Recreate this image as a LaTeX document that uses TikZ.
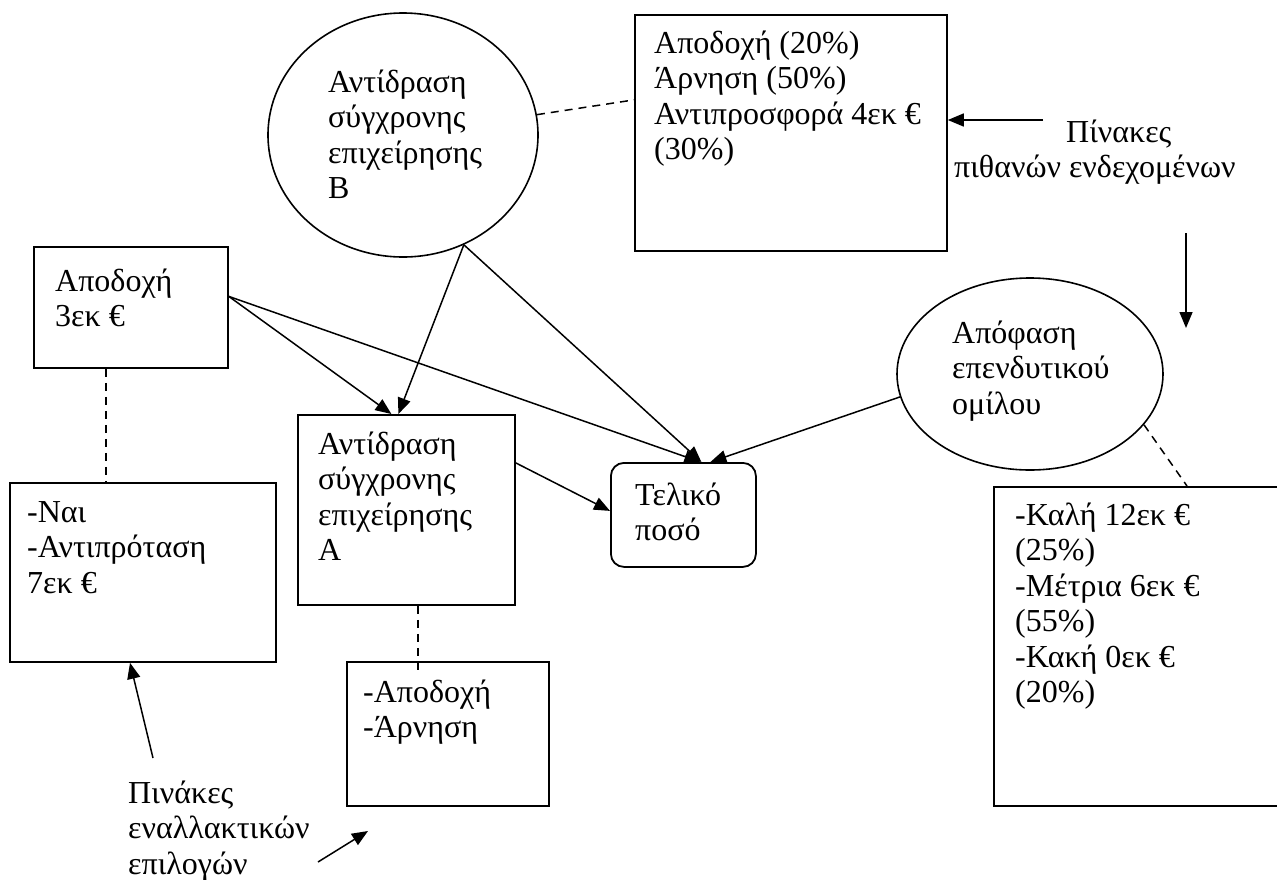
\documentclass[tikz,border=0pt]{standalone}
\usepackage{fontspec}
\setmainfont{Liberation Serif}
\usetikzlibrary{shapes.geometric,arrows.meta}

% several lines of left-aligned text, baseline on the first line
\newcommand\txtlines[1]{\begin{tabular}[t]{@{}l@{}}#1\end{tabular}}

\tikzset{
  box/.style={draw, rectangle, line width=1.8pt, inner sep=0pt, anchor=north west},
  oval/.style={draw, ellipse, line width=1.6pt, inner sep=0pt},
  txt/.style={anchor=base west, inner sep=0pt, font=\fontsize{32}{35.5}\selectfont},
  link/.style={line width=1.5pt, -{Triangle[length=16pt,width=13pt]}},
  tie/.style={line width=1.5pt, dash pattern=on 8pt off 6pt},
}

\begin{document}
\begin{tikzpicture}[x=1pt,y=-1pt]
\path[use as bounding box, fill=white] (0,0) rectangle (1277,879);

% --- shapes ---
\node[oval, minimum width=270pt, minimum height=244pt] (ellB) at (403,135) {};
\node[box, minimum width=312pt, minimum height=236pt] (probsB) at (634,14) {};
\node[box, minimum width=194pt, minimum height=121pt] (acc3) at (33,246) {};
\node[box, minimum width=266pt, minimum height=179pt] (nai) at (9,482) {};
\node[box, minimum width=217pt, minimum height=190pt] (A) at (297,414) {};
\node[box, minimum width=202pt, minimum height=144pt] (AR) at (346,661) {};
\node[box, rounded corners=13pt, minimum width=145pt, minimum height=104pt] (Tel) at (610,462) {};
\node[oval, minimum width=266pt, minimum height=192pt] (Apof) at (1030,374) {};
\node[box, minimum width=330pt, minimum height=319pt] (outB) at (993,486) {};

% --- texts ---
\node[txt] (ellBt) at (328,92) {\txtlines{Αντίδραση\\σύγχρονης\\επιχείρησης\\B}};
\node[txt] (probsBt) at (654,53) {\txtlines{Αποδοχή (20\%)\\Άρνηση (50\%)\\Αντιπροσφορά 4εκ €\\(30\%)}};
\node[txt] (lblP) at (954,142) {\txtlines{\hspace*{112pt}Πίνακες\\πιθανών ενδεχομένων}};
\node[txt] (acc3t) at (55,291) {\txtlines{Αποδοχή\\3εκ €}};
\node[txt] (nait) at (27,522) {\txtlines{-Ναι\\-Αντιπρόταση\\7εκ €}};
\node[txt] (At) at (318,454) {\txtlines{Αντίδραση\\σύγχρονης\\επιχείρησης\\A}};
\node[txt] (ARt) at (363,702) {\txtlines{-Αποδοχή\\-Άρνηση}};
\node[txt] (Telt) at (635,505) {\txtlines{Τελικό\\ποσό}};
\node[txt] (Apoft) at (952,343) {\txtlines{Απόφαση\\επενδυτικού\\ομίλου}};
\node[txt] (outBt) at (1015,525) {\txtlines{-Καλή 12εκ €\\(25\%)\\-Μέτρια 6εκ €\\(55\%)\\-Κακή 0εκ €\\(20\%)}};
\node[txt] (lblE) at (128,803) {\txtlines{Πινάκες\\εναλλακτικών\\επιλογών}};

% --- influence arrows ---
\draw[link] ([yshift=11pt]acc3.east) -- ([xshift=-15pt]A.north);
\draw[link] (ellB.-61) -- ([xshift=-8pt]A.north);
\draw[link] ([yshift=11pt]acc3.east) -- ([xshift=17pt]Tel.north);
\draw[link] (ellB.-61) -- ([xshift=18pt]Tel.north);
\draw[link] ([yshift=47pt]A.east) -- ([yshift=4pt]Tel.west);
\draw[link] (Apof.190) -- ([xshift=27pt]Tel.north);

% --- pointers from the labels ---
\coordinate (pA) at (1043,120);
\draw[link] (pA) -- (probsB.east |- pA);
\coordinate (pB) at (1186,233);
\coordinate (pC) at (1186,328);
\draw[link] (pB) -- (pC);
\coordinate (qA) at (153,758);
\draw[link] (qA) -- ([xshift=121pt]nai.south west);
\coordinate (qB) at (318,862);
\coordinate (qC) at (368,831);
\draw[link] (qB) -- (qC);

% --- dashed ties to the tables ---
\draw[tie] (ellB) -- ([yshift=33pt]probsB.west);
\draw[tie] ([xshift=73pt]acc3.south west) -- ([xshift=97pt]nai.north west);
\draw[tie] ([xshift=121pt]A.south west) -- ([xshift=72pt,yshift=-14pt]AR.north west);
\draw[tie] (Apof.-24) -- ([xshift=194pt]outB.north west);
\end{tikzpicture}
\end{document}
